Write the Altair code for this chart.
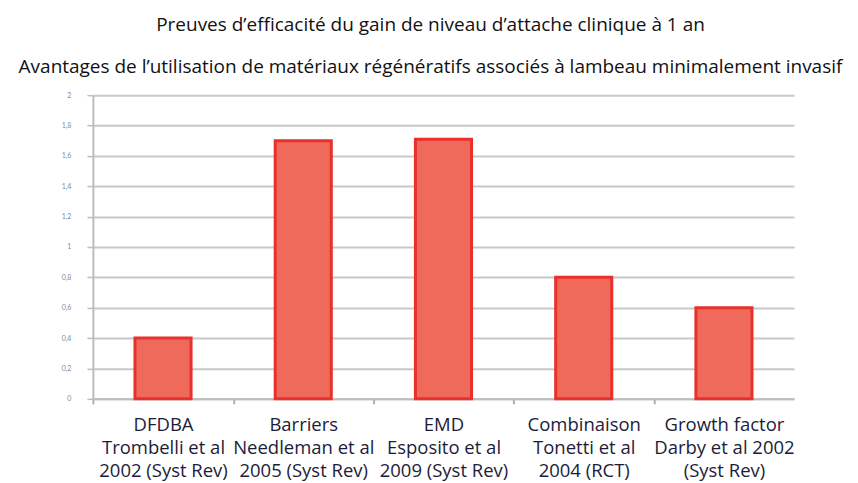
import altair as alt
import pandas as pd

categories = [
    "DFDBA|Trombelli et al|2002 (Syst Rev)",
    "Barriers|Needleman et al|2005 (Syst Rev)",
    "EMD|Esposito et al|2009 (Syst Rev)",
    "Combinaison|Tonetti et al|2004 (RCT)",
    "Growth factor|Darby et al 2002|(Syst Rev)",
]
values = [0.4, 1.7, 1.71, 0.8, 0.6]
y_ticks = [0, 0.2, 0.4, 0.6, 0.8, 1.0, 1.2, 1.4, 1.6, 1.8, 2.0]
title_lines = [
    "Preuves d\u2019efficacit\u00e9 du gain de niveau d\u2019attache clinique \u00e0 1 an",
    "Avantages de l\u2019utilisation de mat\u00e9riaux r\u00e9g\u00e9n\u00e9ratifs associ\u00e9s \u00e0 lambeau minimalement invasif",
]

df = pd.DataFrame({"cat": categories, "val": values})

chart = (
    alt.Chart(df)
    .mark_bar(color="#F06A5C", stroke="#E8312B", strokeWidth=3)
    .encode(
        x=alt.X(
            "cat:N",
            sort=categories,
            title=None,
            scale=alt.Scale(paddingInner=0.6, paddingOuter=0.3),
            axis=alt.Axis(
                labelExpr="split(datum.label, '|')",
                labelAngle=0,
                labelFont="Open Sans",
                labelFontSize=18.5,
                labelLineHeight=23,
                labelColor="#1c1c3a",
                labelPadding=12,
                labelLimit=0,
                domainColor="#bdbdbd",
                domainWidth=2,
                ticks=True,
                tickOffset=-70,
                labelOffset=70,
                tickSize=5,
                tickColor="#b0b0b0",
                tickWidth=2,
                grid=False,
            ),
        ),
        y=alt.Y(
            "val:Q",
            title=None,
            scale=alt.Scale(domain=[0, 2], nice=False),
            axis=alt.Axis(
                values=y_ticks,
                labelExpr="replace(format(datum.value, '~g'), '.', ',')",
                labelFont="Lato",
                labelFontSize=7,
                labelColor="#7a8aa8",
                labelPadding=16,
                tickColor="#bdbdbd",
                tickSize=6,
                tickWidth=1.5,
                domainColor="#bdbdbd",
                domainWidth=2,
                gridColor="#c8c8c8",
                gridWidth=2,
            ),
        ),
    )
    .properties(
        width=702,
        height=304,
        autosize=alt.AutoSizeParams(type="none"),
        padding={"left": 85, "top": 87, "right": 56, "bottom": 84},
        title=alt.TitleParams(
            text=title_lines,
            font="Open Sans",
            fontSize=19,
            fontWeight=500,
            color="#111111",
            lineHeight=42,
            anchor="middle",
            dx=-13,
            offset=14,
        ),
    )
    .configure_view(stroke=None)
)

chart.save("out.html", embed_options={"renderer": "svg", "actions": False})
